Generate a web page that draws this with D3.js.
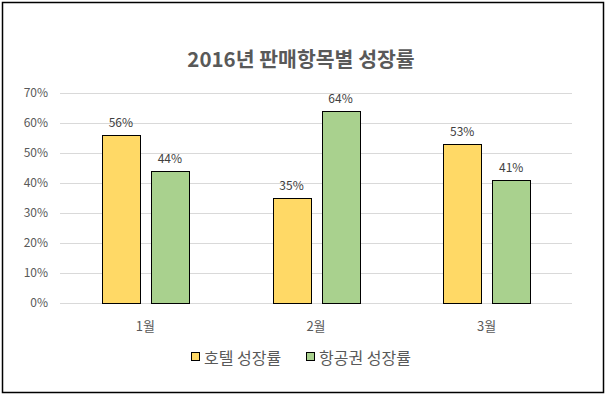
<!DOCTYPE html>
<html>
<head>
<meta charset="utf-8">
<script src="https://cdn.jsdelivr.net/npm/d3@7"></script>
<style>
  body { margin: 0; background: #fff; }
  text { font-family: "Noto Sans CJK KR", "Noto Sans", sans-serif; }
</style>
</head>
<body>
<div id="chart"></div>
<script>
// chart data
var months = ["1월", "2월", "3월"];
var seriesNames = ["호텔 성장률", "항공권 성장률"];
var hotel = [56, 35, 53];
var flight = [44, 64, 41];
var yTicks = [0, 10, 20, 30, 40, 50, 60, 70];
var colors = ["#FFD966", "#A9D18E"];

var W = 608, H = 398;
var margin = {top: 93, right: 36, bottom: 95, left: 60},
    width = W - margin.left - margin.right,
    height = H - margin.top - margin.bottom;

var svg = d3.select("#chart")
  .append("svg")
    .attr("width", W)
    .attr("height", H);

// outer border
svg.append("rect")
  .attr("x", 2.5).attr("y", 2.5)
  .attr("width", 601).attr("height", 390)
  .attr("fill", "#fff")
  .attr("stroke", "#000")
  .attr("stroke-width", 1.5);

// title
svg.append("text")
  .attr("x", 301).attr("y", 67)
  .attr("text-anchor", "middle")
  .attr("font-size", 20.5)
  .attr("font-weight", "bold")
  .attr("fill", "#595959")
  .text("2016년 판매항목별 성장률");

var g = svg.append("g")
  .attr("transform", "translate(" + margin.left + "," + margin.top + ")");

var x = d3.scaleBand()
  .domain(months)
  .range([0, width]);

var y = d3.scaleLinear()
  .domain([0, 70])
  .range([height, 0]);

// gridlines
g.selectAll(".grid")
  .data(yTicks)
  .enter().append("line")
    .attr("x1", 0).attr("x2", width)
    .attr("y1", function(d) { return Math.round(y(d)) + 0.5; })
    .attr("y2", function(d) { return Math.round(y(d)) + 0.5; })
    .attr("stroke", "#d9d9d9")
    .attr("stroke-width", 1);

// y axis labels
g.selectAll(".ylab")
  .data(yTicks)
  .enter().append("text")
    .attr("x", -12)
    .attr("y", function(d) { return y(d); })
    .attr("dy", "0.35em")
    .attr("text-anchor", "end")
    .attr("font-size", 12)
    .attr("fill", "#595959")
    .text(function(d) { return d + "%"; });

// x axis labels
g.selectAll(".xlab")
  .data(months)
  .enter().append("text")
    .attr("x", function(d) { return x(d) + x.bandwidth() / 2; })
    .attr("y", height + 28)
    .attr("text-anchor", "middle")
    .attr("font-size", 13)
    .attr("fill", "#595959")
    .text(function(d) { return d; });

var barW = 38, gap = 11;
var xSub = d3.scaleOrdinal()
  .domain([0, 1])
  .range([-(barW + gap / 2), gap / 2]);

var series = [hotel, flight];
series.forEach(function(vals, si) {
  var bars = g.selectAll(".bar" + si)
    .data(vals)
    .enter();
  bars.append("rect")
    .attr("x", function(d, i) { return Math.round(x(months[i]) + x.bandwidth() / 2 + xSub(si)) + 0.5; })
    .attr("y", function(d) { return Math.round(y(d)) + 0.5; })
    .attr("width", barW)
    .attr("height", function(d) { return Math.round(height - y(d)); })
    .attr("fill", colors[si])
    .attr("stroke", "#000")
    .attr("stroke-width", 1);
  bars.append("text")
    .attr("x", function(d, i) { return x(months[i]) + x.bandwidth() / 2 + xSub(si) + barW / 2; })
    .attr("y", function(d) { return y(d) - 8; })
    .attr("text-anchor", "middle")
    .attr("font-size", 12)
    .attr("fill", "#404040")
    .text(function(d) { return d + "%"; });
});

// legend
var legendX = [191, 306];
var legend = svg.selectAll(".legend")
  .data(seriesNames)
  .enter().append("g")
    .attr("transform", function(d, i) { return "translate(" + legendX[i] + ",358)"; });
legend.append("rect")
  .attr("x", 0.5).attr("y", -5.5)
  .attr("width", 8).attr("height", 8)
  .attr("fill", function(d, i) { return colors[i]; })
  .attr("stroke", "#000")
  .attr("stroke-width", 1);
legend.append("text")
  .attr("x", 13)
  .attr("y", 0)
  .attr("dy", "0.35em")
  .attr("font-size", 16)
  .attr("fill", "#595959")
  .text(function(d) { return d; });
</script>
</body>
</html>
